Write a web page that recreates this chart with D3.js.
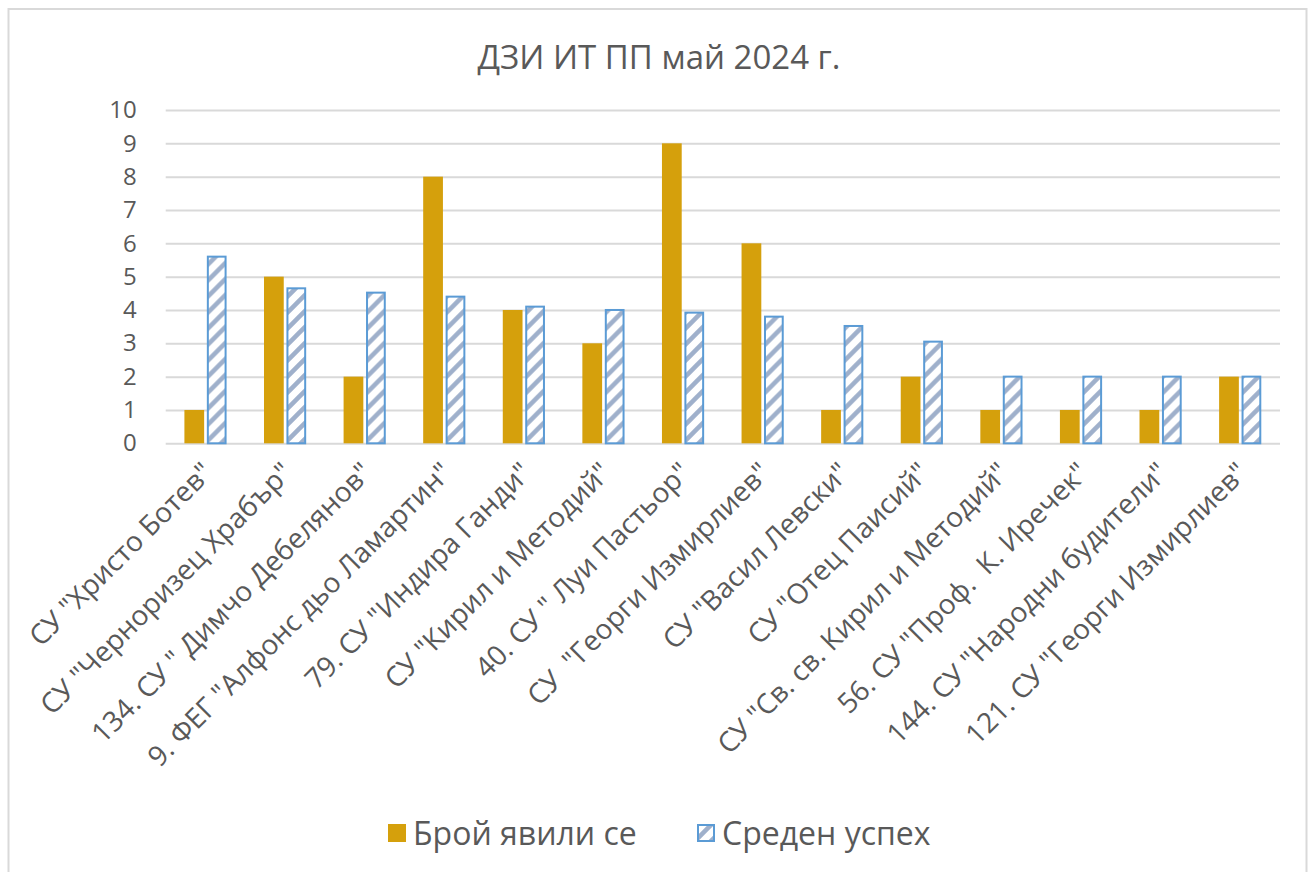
<!DOCTYPE html>
<html>
<head>
<meta charset="utf-8">
<script src="https://cdn.jsdelivr.net/npm/d3@7"></script>
<style>
  html, body { margin: 0; padding: 0; background: #ffffff; }
  svg { display: block; }
  text { font-family: "Open Sans", "Noto Sans", sans-serif; fill: #595959; white-space: pre; }
</style>
</head>
<body>
<svg id="chart" width="1311" height="872"></svg>
<script>
const categories = [
  'СУ "Христо Ботев"',
  'СУ "Черноризец Храбър"',
  '134. СУ " Димчо Дебелянов"',
  '9. ФЕГ "Алфонс дьо Ламартин"',
  '79. СУ "Индира Ганди"',
  'СУ "Кирил и Методий"',
  '40. СУ " Луи Пастьор"',
  'СУ  "Георги Измирлиев"',
  'СУ "Васил Левски"',
  'СУ "Отец Паисий"',
  'СУ "Св. св. Кирил и Методий"',
  '56. СУ "Проф.  К. Иречек"',
  '144. СУ "Народни будители"',
  '121. СУ "Георги Измирлиев"'
];
const countValues = [1, 5, 2, 8, 4, 3, 9, 6, 1, 2, 1, 1, 1, 2];
const avgValues = [5.6, 4.65, 4.52, 4.4, 4.1, 4.0, 3.92, 3.8, 3.52, 3.05, 2, 2, 2, 2];
const seriesNames = ["Брой явили се", "Среден успех"];
const yTickValues = [0, 1, 2, 3, 4, 5, 6, 7, 8, 9, 10];
const chartTitle = "ДЗИ ИТ ПП май 2024 г.";

const svg = d3.select("#chart");
const gold = "#d5a00c";
const blue = "#5b9bd5";
const stripe = "#9fb0cb";
const gridColor = "#d9d9d9";

// pattern
const defs = svg.append("defs");
const pat = defs.append("pattern")
  .attr("id", "diag")
  .attr("patternUnits", "userSpaceOnUse")
  .attr("width", 16).attr("height", 16);
pat.append("rect").attr("width", 16).attr("height", 16).attr("fill", "#ffffff");
pat.append("path")
  .attr("d", "M-4,4 L4,-4 M0,16 L16,0 M12,20 L20,12")
  .attr("stroke", stripe).attr("stroke-width", 4.5);

// outer border
svg.append("rect")
  .attr("x", 8.5).attr("y", 9)
  .attr("width", 1298).attr("height", 900)
  .attr("fill", "none").attr("stroke", gridColor).attr("stroke-width", 2);

// title
svg.append("text")
  .attr("x", 659).attr("y", 69)
  .attr("text-anchor", "middle")
  .style("font-size", "33px")
  .text(chartTitle);

const x0 = d3.scaleBand()
  .domain(categories)
  .range([165.7, 1280])
  .paddingInner(0.47)
  .paddingOuter(0.235);

const x1 = d3.scaleBand()
  .domain(seriesNames)
  .range([0, x0.bandwidth()])
  .paddingInner(0.12);

const y = d3.scaleLinear().domain([0, 10]).range([443.3, 110]);

// gridlines + y tick labels
const yAxis = d3.axisLeft(y).tickValues(yTickValues).tickSize(-(1280 - 165.7)).tickPadding(29).tickFormat(d3.format("d"));
const gy = svg.append("g").attr("transform", "translate(165.7,0)").call(yAxis);
gy.select(".domain").remove();
gy.selectAll(".tick line").attr("stroke", gridColor).attr("stroke-width", 2);
gy.selectAll(".tick text")
  .style("font-size", "24px")
  .style("font-family", '"Open Sans", sans-serif')
  .attr("fill", "#595959");

// bars
const groups = svg.append("g").selectAll("g")
  .data(categories)
  .join("g")
  .attr("transform", d => `translate(${x0(d)},0)`);

groups.append("rect")
  .attr("x", x1(seriesNames[0]))
  .attr("y", (d, i) => y(countValues[i]))
  .attr("width", x1.bandwidth())
  .attr("height", (d, i) => y(0) - y(countValues[i]))
  .attr("fill", gold);

groups.append("rect")
  .attr("x", x1(seriesNames[1]) + 1)
  .attr("y", (d, i) => y(avgValues[i]))
  .attr("width", x1.bandwidth() - 2)
  .attr("height", (d, i) => y(0) - y(avgValues[i]))
  .attr("fill", "url(#diag)")
  .attr("stroke", blue)
  .attr("stroke-width", 2);

// category labels
const xAxis = d3.axisBottom(x0).tickSize(0).tickPadding(0);
const gx = svg.append("g").attr("transform", "translate(0,443.3)").call(xAxis);
gx.select(".domain").remove();
gx.selectAll(".tick text")
  .attr("text-anchor", "end")
  .attr("transform", "translate(9,31) rotate(-45)")
  .attr("x", 0).attr("y", 0).attr("dy", 0)
  .style("font-size", "28px")
  .style("font-family", '"Open Sans", sans-serif')
  .attr("fill", "#595959");

// legend
const legend = svg.append("g");
const legendItems = [
  { name: seriesNames[0], x: 388, fill: gold, stroke: "none" },
  { name: seriesNames[1], x: 697, fill: "url(#diag)", stroke: blue }
];
legendItems.forEach(it => {
  legend.append("rect")
    .attr("x", it.x + (it.stroke === "none" ? 0 : 1)).attr("y", 824 + (it.stroke === "none" ? 0 : 1))
    .attr("width", it.stroke === "none" ? 18 : 16).attr("height", it.stroke === "none" ? 18 : 16)
    .attr("fill", it.fill).attr("stroke", it.stroke).attr("stroke-width", 2);
  legend.append("text")
    .attr("x", it.x + 25).attr("y", 845)
    .style("font-size", "32px")
    .text(it.name);
});
</script>
</body>
</html>
